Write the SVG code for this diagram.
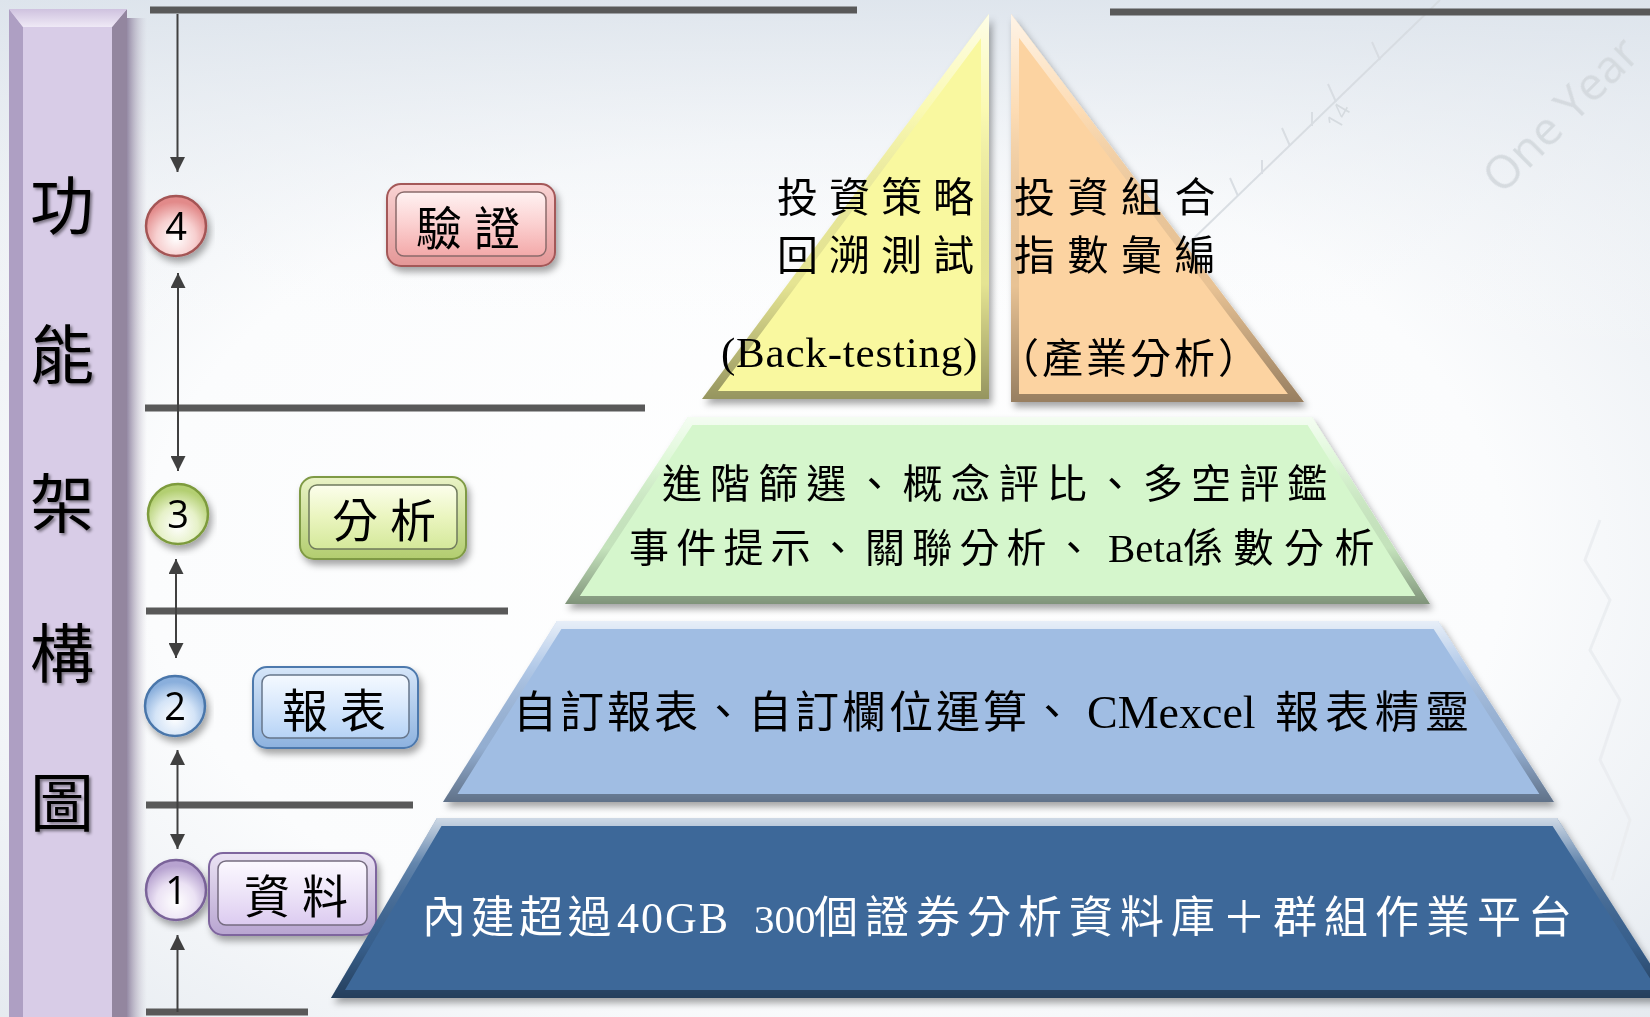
<svg xmlns="http://www.w3.org/2000/svg" width="1650" height="1017" viewBox="0 0 1650 1017" lang="zh-Hant">
<style>
.hl{stroke:#595959;stroke-width:7;fill:none}
.ar{stroke:#404040;stroke-width:2;fill:none}
.cj{font-family:'Liberation Serif','Noto Sans CJK TC',serif;fill:#000}
.sans{font-family:'Noto Sans CJK TC',sans-serif}
.num{font-family:'Open Sans','Liberation Sans',sans-serif;font-size:38px;text-anchor:middle;fill:#000}
.btn{font-family:'Noto Sans CJK TC',sans-serif;font-size:46px;letter-spacing:12px;fill:#000}
.wm{font-family:'Open Sans','Liberation Sans',sans-serif;fill:#d3d8dd}
</style>
<defs>
<radialGradient id="bg" cx="0.5" cy="0.55" r="0.75">
<stop offset="0" stop-color="#ffffff"/><stop offset="0.55" stop-color="#fbfcfd"/><stop offset="1" stop-color="#dfe5ec"/>
</radialGradient>
<linearGradient id="bgTop" x1="0" y1="0" x2="0" y2="1">
<stop offset="0" stop-color="#dde4ec" stop-opacity="0.9"/><stop offset="0.35" stop-color="#ffffff" stop-opacity="0"/>
</linearGradient>
<linearGradient id="barSh" x1="0" y1="0" x2="1" y2="0">
<stop offset="0" stop-color="#958aa5"/><stop offset="1" stop-color="#c8c4d0" stop-opacity="0"/>
</linearGradient>
<linearGradient id="barTop" x1="0" y1="0" x2="0" y2="1">
<stop offset="0" stop-color="#cfc2df"/><stop offset="1" stop-color="#efe9f6"/>
</linearGradient>
<linearGradient id="bevel" x1="0" y1="0" x2="0" y2="1">
<stop offset="0" stop-color="#ffffff" stop-opacity="0.75"/>
<stop offset="0.25" stop-color="#ffffff" stop-opacity="0.2"/>
<stop offset="0.7" stop-color="#000000" stop-opacity="0.08"/>
<stop offset="1" stop-color="#000000" stop-opacity="0.4"/>
</linearGradient>
<filter id="sh" x="-10%" y="-10%" width="125%" height="130%">
<feDropShadow dx="3" dy="5" stdDeviation="3.5" flood-color="#000" flood-opacity="0.35"/>
</filter>
<filter id="tsh" x="-20%" y="-20%" width="150%" height="150%">
<feDropShadow dx="2" dy="2" stdDeviation="1.5" flood-color="#000" flood-opacity="0.45"/>
</filter>
<clipPath id="cY"><polygon points="989,14 989,399 702,399"/></clipPath>
<clipPath id="cO"><polygon points="1011,14 1011,402 1304,402"/></clipPath>
<clipPath id="cG"><polygon points="688,417 1312,417 1430,604 565,604"/></clipPath>
<clipPath id="cL"><polygon points="557,621 1438,621 1554,802 443,802"/></clipPath>
<clipPath id="cD"><polygon points="437,818 1557,818 1672,998 331,998"/></clipPath>
<radialGradient id="c4" cx="0.5" cy="0.7" r="0.6"><stop offset="0" stop-color="#ffffff"/><stop offset="0.55" stop-color="#f7cfcf"/><stop offset="1" stop-color="#e28a8a"/></radialGradient>
<radialGradient id="c3" cx="0.5" cy="0.7" r="0.6"><stop offset="0" stop-color="#ffffff"/><stop offset="0.55" stop-color="#e6f1c8"/><stop offset="1" stop-color="#b3cf72"/></radialGradient>
<radialGradient id="c2" cx="0.5" cy="0.7" r="0.6"><stop offset="0" stop-color="#ffffff"/><stop offset="0.55" stop-color="#d4e4f7"/><stop offset="1" stop-color="#8aafdc"/></radialGradient>
<radialGradient id="c1" cx="0.5" cy="0.7" r="0.6"><stop offset="0" stop-color="#ffffff"/><stop offset="0.55" stop-color="#ebe2f4"/><stop offset="1" stop-color="#b7a3d0"/></radialGradient>
<linearGradient id="rO" x1="0" y1="0" x2="0" y2="1"><stop offset="0" stop-color="#f9d3d3"/><stop offset="1" stop-color="#e49797"/></linearGradient>
<linearGradient id="rI" x1="0" y1="0" x2="0" y2="1"><stop offset="0" stop-color="#fff2f2"/><stop offset="0.5" stop-color="#fbd0d0"/><stop offset="1" stop-color="#f3a9a9"/></linearGradient>
<linearGradient id="gO" x1="0" y1="0" x2="0" y2="1"><stop offset="0" stop-color="#eaf3c6"/><stop offset="1" stop-color="#b2cd6f"/></linearGradient>
<linearGradient id="gI" x1="0" y1="0" x2="0" y2="1"><stop offset="0" stop-color="#fcfeec"/><stop offset="0.5" stop-color="#eaf5bf"/><stop offset="1" stop-color="#d4e89a"/></linearGradient>
<linearGradient id="uO" x1="0" y1="0" x2="0" y2="1"><stop offset="0" stop-color="#d6e6f9"/><stop offset="1" stop-color="#8db2df"/></linearGradient>
<linearGradient id="uI" x1="0" y1="0" x2="0" y2="1"><stop offset="0" stop-color="#f4f9ff"/><stop offset="0.5" stop-color="#d8e8fc"/><stop offset="1" stop-color="#b6d3f6"/></linearGradient>
<linearGradient id="pO" x1="0" y1="0" x2="0" y2="1"><stop offset="0" stop-color="#ebe3f4"/><stop offset="1" stop-color="#b8a5d1"/></linearGradient>
<linearGradient id="pI" x1="0" y1="0" x2="0" y2="1"><stop offset="0" stop-color="#fbf8ff"/><stop offset="0.5" stop-color="#ede4f8"/><stop offset="1" stop-color="#dccbf0"/></linearGradient>
<marker id="ah" viewBox="0 0 16 16" refX="16" refY="8" markerWidth="15" markerHeight="15" markerUnits="userSpaceOnUse" orient="auto-start-reverse">
<path d="M0,0 L16,8 L0,16 z" fill="#404040"/>
</marker>
</defs>

<!-- background -->
<rect x="0" y="0" width="1650" height="1017" fill="url(#bg)"/>
<rect x="0" y="0" width="1650" height="1017" fill="url(#bgTop)"/>
<g id="watermark" opacity="0.9">
<path d="M1190,242 L1440,0" stroke="#d6dbe0" stroke-width="2" fill="none"/>
<path d="M1238,196 L1230,178 M1290,146 L1282,128 M1336,102 L1328,84 M1380,60 L1372,42 M1262,174 L1262,160 M1312,126 L1312,112" stroke="#d6dbe0" stroke-width="2" fill="none"/>
<text class="wm" x="1345" y="120" font-size="22" transform="rotate(-60 1345 120)" text-anchor="middle">14</text>
<text class="wm" x="1572" y="126" font-size="46" transform="rotate(-45 1572 126)" text-anchor="middle">One Year</text>
<path d="M1600,520 L1585,560 L1610,600 L1590,650 L1620,700 L1600,760 L1630,820 L1612,880" stroke="#eaedf0" stroke-width="3" fill="none"/>
</g>

<!-- left bar -->
<g id="bar">
<rect x="127" y="18" width="20" height="1000" fill="url(#barSh)"/>
<rect x="9" y="9" width="118" height="1010" fill="#d8cce7"/>
<polygon points="9,9 23,27 23,1017 9,1017" fill="#ae9fc3"/>
<polygon points="127,9 112,27 112,1017 127,1017" fill="#93869f"/>
<polygon points="9,9 127,9 112,27 23,27" fill="url(#barTop)"/>
<text class="sans" font-size="64" text-anchor="middle" fill="#000" filter="url(#tsh)"><tspan x="62" y="229">功</tspan><tspan x="62" y="378">能</tspan><tspan x="62" y="527">架</tspan><tspan x="62" y="677">構</tspan><tspan x="62" y="826">圖</tspan></text>
</g>

<!-- separators and arrows -->
<g id="connectors">
<line class="hl" x1="150" y1="10" x2="857" y2="10"/>
<line class="hl" x1="1110" y1="12" x2="1650" y2="12"/>
<line class="hl" x1="145" y1="408" x2="645" y2="408"/>
<line class="hl" x1="146" y1="611" x2="508" y2="611"/>
<line class="hl" x1="146" y1="805" x2="413" y2="805"/>
<line class="hl" x1="146" y1="1012" x2="308" y2="1012"/>
<path class="ar" d="M177.5,14 L177.5,172" marker-end="url(#ah)"/>
<path class="ar" d="M178,273 L178,471" marker-start="url(#ah)" marker-end="url(#ah)"/>
<path class="ar" d="M176,559 L176,658" marker-start="url(#ah)" marker-end="url(#ah)"/>
<path class="ar" d="M177.5,750 L177.5,849" marker-start="url(#ah)" marker-end="url(#ah)"/>
<path class="ar" d="M177.5,1012 L177.5,935" marker-end="url(#ah)"/>
</g>

<!-- number circles -->
<g id="circle4" filter="url(#sh)">
<circle cx="176" cy="226" r="30" fill="url(#c4)" stroke="#a45454" stroke-width="2.5"/>
<text class="num" x="176" y="240">4</text>
</g>
<g id="circle3" filter="url(#sh)">
<circle cx="178" cy="514" r="30" fill="url(#c3)" stroke="#7d9b3c" stroke-width="2.5"/>
<text class="num" x="178" y="528">3</text>
</g>
<g id="circle2" filter="url(#sh)">
<circle cx="175" cy="706" r="30" fill="url(#c2)" stroke="#4a76aa" stroke-width="2.5"/>
<text class="num" x="175" y="720">2</text>
</g>
<g id="circle1" filter="url(#sh)">
<circle cx="176" cy="890" r="30" fill="url(#c1)" stroke="#7a6399" stroke-width="2.5"/>
<text class="num" x="176" y="904">1</text>
</g>

<!-- label buttons -->
<g id="btn-verify" filter="url(#sh)">
<rect x="387" y="184" width="168" height="82" rx="14" fill="url(#rO)" stroke="#a45858" stroke-width="2"/>
<rect x="396" y="192" width="150" height="64" rx="8" fill="url(#rI)" stroke="#8a6b6b" stroke-width="1.5"/>
<text class="btn" x="416" y="245">驗證</text>
</g>
<g id="btn-analysis" filter="url(#sh)">
<rect x="300" y="477" width="166" height="82" rx="14" fill="url(#gO)" stroke="#7f9a45" stroke-width="2"/>
<rect x="309" y="485" width="148" height="64" rx="8" fill="url(#gI)" stroke="#6f7a5c" stroke-width="1.5"/>
<text class="btn" x="332" y="537">分析</text>
</g>
<g id="btn-report" filter="url(#sh)">
<rect x="253" y="667" width="165" height="81" rx="14" fill="url(#uO)" stroke="#4d79ad" stroke-width="2"/>
<rect x="262" y="675" width="147" height="63" rx="8" fill="url(#uI)" stroke="#66758a" stroke-width="1.5"/>
<text class="btn" x="282" y="727">報表</text>
</g>
<g id="btn-data" filter="url(#sh)">
<rect x="209" y="853" width="167" height="82" rx="14" fill="url(#pO)" stroke="#7e659e" stroke-width="2"/>
<rect x="218" y="861" width="149" height="64" rx="8" fill="url(#pI)" stroke="#756c80" stroke-width="1.5"/>
<text class="btn" x="244" y="913">資料</text>
</g>

<!-- pyramid -->
<g id="tier-backtest">
<g filter="url(#sh)"><polygon points="989,14 989,399 702,399" fill="#f9f89f"/></g>
<polygon points="989,14 989,399 702,399" fill="none" stroke="url(#bevel)" stroke-width="16" clip-path="url(#cY)"/>
<text class="cj" font-size="41" letter-spacing="11"><tspan x="777" y="212">投資策略</tspan><tspan x="777" y="270">回溯測試</tspan></text>
<text class="cj" x="721" y="367" font-size="43" letter-spacing="0.8">(Back-testing)</text>
</g>
<g id="tier-portfolio">
<g filter="url(#sh)"><polygon points="1011,14 1011,402 1304,402" fill="#fcd3a1"/></g>
<polygon points="1011,14 1011,402 1304,402" fill="none" stroke="url(#bevel)" stroke-width="16" clip-path="url(#cO)"/>
<text class="cj" font-size="41" letter-spacing="12.5"><tspan x="1014" y="212">投資組合</tspan><tspan x="1014" y="270">指數彙編</tspan></text>
<text class="cj" x="998" y="373" font-size="41" letter-spacing="3">（產業分析）</text>
</g>
<g id="tier-analysis">
<g filter="url(#sh)"><polygon points="688,417 1312,417 1430,604 565,604" fill="#d5f6cc"/></g>
<polygon points="688,417 1312,417 1430,604 565,604" fill="none" stroke="url(#bevel)" stroke-width="16" clip-path="url(#cG)"/>
<text class="cj" x="662" y="498" font-size="40" letter-spacing="8.1">進階篩選、概念評比、多空評鑑</text>
<text class="cj" y="562" font-size="40"><tspan x="629" letter-spacing="7.2">事件提示、關聯分析、</tspan><tspan x="1108" font-size="41">Beta</tspan><tspan x="1183" letter-spacing="10.5">係數分析</tspan></text>
</g>
<g id="tier-report">
<g filter="url(#sh)"><polygon points="557,621 1438,621 1554,802 443,802" fill="#a0bde3"/></g>
<polygon points="557,621 1438,621 1554,802 443,802" fill="none" stroke="url(#bevel)" stroke-width="16" clip-path="url(#cL)"/>
<text class="cj" y="728" font-size="44"><tspan x="513" letter-spacing="3">自訂報表、自訂欄位運算、</tspan><tspan x="1087" font-size="46">CMexcel </tspan><tspan x="1275" letter-spacing="6">報表精靈</tspan></text>
</g>
<g id="tier-data">
<g filter="url(#sh)"><polygon points="437,818 1557,818 1672,998 331,998" fill="#3e6899"/></g>
<polygon points="437,818 1557,818 1672,998 331,998" fill="none" stroke="url(#bevel)" stroke-width="16" clip-path="url(#cD)"/>
<text class="cj" y="933" font-size="44" style="fill:#ffffff"><tspan x="422" letter-spacing="4.5">內建超過</tspan><tspan x="617" letter-spacing="2">40GB </tspan><tspan x="754" font-size="41">300</tspan><tspan x="814" letter-spacing="7">個證券分析資料庫＋群組作業平台</tspan></text>
</g>
</svg>
